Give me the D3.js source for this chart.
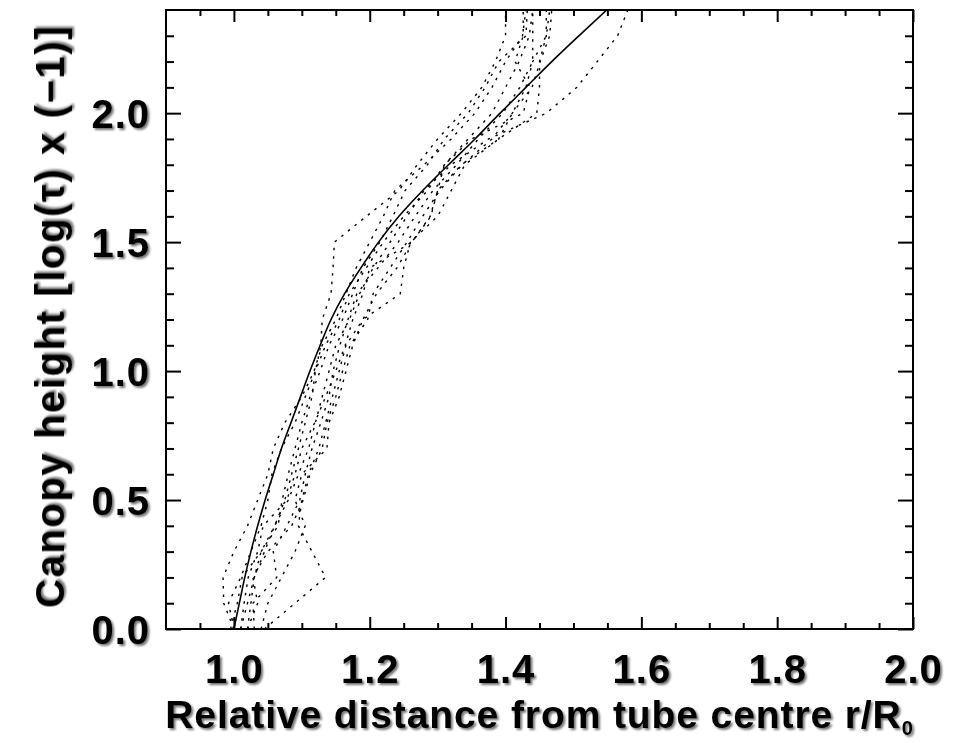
<!DOCTYPE html>
<html><head><meta charset="utf-8">
<script src="https://cdn.jsdelivr.net/npm/d3@7"></script>
<style>
body{margin:0;background:#fff}
svg{display:block}
text{font-family:"Liberation Sans",Arial,Helvetica,sans-serif;font-weight:bold;fill:#000}
</style>
</head><body><svg id="c" width="965" height="743"></svg>
<script>
// Canopy heights (y levels), log(tau) x (-1)
const heights = [0.0,0.1,0.2,0.3,0.4,0.5,0.6,0.7,0.8,0.9,1.0,1.1,1.2,1.3,1.4,1.5,1.6,1.7,1.8,1.9,2.0,2.1,2.2,2.3,2.4];
// Model (solid line): r/R0 at each height
const modelR = [1.000,1.008,1.016,1.025,1.035,1.046,1.058,1.070,1.084,1.098,1.112,1.127,1.143,1.163,1.187,1.213,1.243,1.278,1.316,1.355,1.392,1.430,1.468,1.508,1.549];
// Observed profiles (dotted lines)
const profileB = [1.000,0.985,0.984,1.000,1.020,1.035,1.050,1.058,1.075,1.100,1.118,1.130,1.150,1.165,1.180,1.200,1.220,1.237,1.280,1.320,1.355,1.380,1.400,1.425,1.430];
const profileC = [1.020,1.025,1.030,1.045,1.060,1.075,1.085,1.095,1.105,1.115,1.120,1.128,1.130,1.143,1.146,1.148,1.195,1.243,1.270,1.300,1.335,1.365,1.385,1.400,1.400];
const profileS = [1.045,1.090,1.135,1.115,1.095,1.100,1.110,1.125,1.135,1.145,1.155,1.165,1.190,1.210,1.240,1.262,1.290,1.300,1.335,1.390,1.410,1.430,1.440,1.460,1.465];
const profileD = [1.010,1.020,1.030,1.040,1.060,1.080,1.095,1.110,1.120,1.130,1.140,1.150,1.170,1.185,1.205,1.230,1.255,1.280,1.320,1.375,1.460,1.505,1.535,1.565,1.580];
const profileE = [0.995,1.005,1.012,1.040,1.065,1.071,1.080,1.090,1.100,1.112,1.127,1.140,1.160,1.175,1.190,1.215,1.234,1.252,1.285,1.310,1.345,1.370,1.390,1.430,1.432];
const profileF = [1.030,1.028,1.063,1.058,1.078,1.097,1.105,1.115,1.128,1.140,1.146,1.156,1.168,1.181,1.212,1.242,1.267,1.293,1.328,1.360,1.396,1.421,1.440,1.440,1.440];
const profileG = [1.020,1.035,1.028,1.050,1.085,1.102,1.112,1.130,1.137,1.150,1.160,1.171,1.197,1.205,1.230,1.255,1.278,1.303,1.336,1.380,1.410,1.439,1.451,1.465,1.468];
const profileH = [1.010,1.015,1.021,1.035,1.043,1.078,1.090,1.100,1.119,1.135,1.150,1.164,1.175,1.190,1.200,1.262,1.289,1.300,1.310,1.350,1.426,1.436,1.414,1.426,1.426];
const profileI = [1.040,1.050,1.070,1.090,1.105,1.090,1.100,1.137,1.140,1.155,1.165,1.175,1.190,1.245,1.250,1.260,1.300,1.320,1.340,1.390,1.446,1.450,1.450,1.460,1.460];
const profileJ = [1.000,0.992,1.010,1.025,1.040,1.050,1.056,1.070,1.090,1.105,1.120,1.135,1.155,1.170,1.195,1.220,1.250,1.285,1.310,1.345,1.380,1.400,1.420,1.435,1.440];
const profiles = [profileB,profileC,profileS,profileD,profileE,profileF,profileG,profileH,profileI,profileJ];

const xMajorTicks = [1.0,1.2,1.4,1.6,1.8,2.0];
const xMinorTicks = [0.95,1.05,1.1,1.15,1.25,1.3,1.35,1.45,1.5,1.55,1.65,1.7,1.75,1.85,1.9,1.95];
const yMajorTicks = [0.0,0.5,1.0,1.5,2.0];
const yMinorTicks = [0.1,0.2,0.3,0.4,0.6,0.7,0.8,0.9,1.1,1.2,1.3,1.4,1.6,1.7,1.8,1.9,2.1,2.2,2.3];
const xDomain = [0.9, 2.0];
const yDomain = [0.0, 2.4];
const xTitle = "Relative distance from tube centre r/R";
const xTitleSub = "0";
const yTitle = "Canopy height [log(\u03C4) x (\u22121)]";

const W = 965, H = 743;
const m = {left:166, right:52, top:10, bottom:114};
const iw = W - m.left - m.right, ih = H - m.top - m.bottom;
const svg = d3.select("#c");

const defs = svg.append("defs");
const f = defs.append("filter").attr("id","sh").attr("x","-10%").attr("y","-10%").attr("width","120%").attr("height","130%");
f.append("feGaussianBlur").attr("in","SourceAlpha").attr("stdDeviation",1.3).attr("result","b");
f.append("feOffset").attr("in","b").attr("dx",1.5).attr("dy",1.5).attr("result","o");
f.append("feComponentTransfer").attr("in","o").attr("result","o2").append("feFuncA").attr("type","linear").attr("slope",0.55);
const fm = f.append("feMerge");
fm.append("feMergeNode").attr("in","o2");
fm.append("feMergeNode").attr("in","SourceGraphic");

const x = d3.scaleLinear().domain(xDomain).range([0, iw]);
const y = d3.scaleLinear().domain(yDomain).range([ih, 0]);
const g = svg.append("g").attr("transform",`translate(${m.left},${m.top})`);

function styleAxis(sel){
  sel.select(".domain").remove();
  sel.selectAll(".tick line").attr("stroke","#000").attr("stroke-width",2);
}
// bottom
g.append("g").attr("transform",`translate(0,${ih})`)
 .call(d3.axisBottom(x).tickValues(xMinorTicks).tickSize(-6).tickFormat("")).call(styleAxis);
g.append("g").attr("transform",`translate(0,${ih})`)
 .call(d3.axisBottom(x).tickValues(xMajorTicks).tickSize(-12).tickPadding(26).tickFormat(d3.format(".1f")))
 .call(styleAxis)
 .call(s=>s.selectAll("text").attr("font-size",40).attr("letter-spacing",1).attr("dy","0.71em").attr("filter","url(#sh)"));
// top
g.append("g").call(d3.axisTop(x).tickValues(xMinorTicks).tickSize(-6).tickFormat("")).call(styleAxis);
g.append("g").call(d3.axisTop(x).tickValues(xMajorTicks).tickSize(-12).tickFormat("")).call(styleAxis);
// left
g.append("g").call(d3.axisLeft(y).tickValues(yMinorTicks).tickSize(-8).tickFormat("")).call(styleAxis);
g.append("g").call(d3.axisLeft(y).tickValues(yMajorTicks).tickSize(-15).tickPadding(16).tickFormat(d3.format(".1f")))
 .call(styleAxis)
 .call(s=>s.selectAll("text").attr("font-size",40).attr("letter-spacing",1).attr("dy","0.36em").attr("filter","url(#sh)"));
// right
g.append("g").attr("transform",`translate(${iw},0)`).call(d3.axisRight(y).tickValues(yMinorTicks).tickSize(-8).tickFormat("")).call(styleAxis);
g.append("g").attr("transform",`translate(${iw},0)`).call(d3.axisRight(y).tickValues(yMajorTicks).tickSize(-15).tickFormat("")).call(styleAxis);

// frame
g.append("rect").attr("width",iw).attr("height",ih).attr("fill","none").attr("stroke","#000").attr("stroke-width",2);

const clip = defs.append("clipPath").attr("id","cp").append("rect").attr("width",iw).attr("height",ih);
const plot = g.append("g").attr("clip-path","url(#cp)");
const line = d3.line().x(d=>x(d[0])).y(d=>y(d[1]));
profiles.forEach(p=>{
  plot.append("path").datum(p.map((v,i)=>[v,heights[i]]))
   .attr("d",line).attr("fill","none").attr("stroke","#000").attr("stroke-width",1.4)
   .attr("stroke-dasharray","2.5,6");
});
plot.append("path").datum(modelR.map((v,i)=>[v,heights[i]]))
 .attr("d",line.curve(d3.curveMonotoneY)).attr("fill","none").attr("stroke","#000").attr("stroke-width",1.6);

// titles
const xt = svg.append("text").attr("x",m.left+iw/2).attr("y",728).attr("text-anchor","middle")
 .attr("font-size",39).attr("letter-spacing",0.9).attr("filter","url(#sh)");
xt.append("tspan").text(xTitle);
xt.append("tspan").attr("font-size",20).attr("dy",7).text(xTitleSub);
svg.append("text").attr("transform",`translate(64,${m.top+ih/2-3}) rotate(-90)`).attr("text-anchor","middle")
 .attr("font-size",40).attr("letter-spacing",1.6).attr("filter","url(#sh)").text(yTitle);
</script>
</body></html>
